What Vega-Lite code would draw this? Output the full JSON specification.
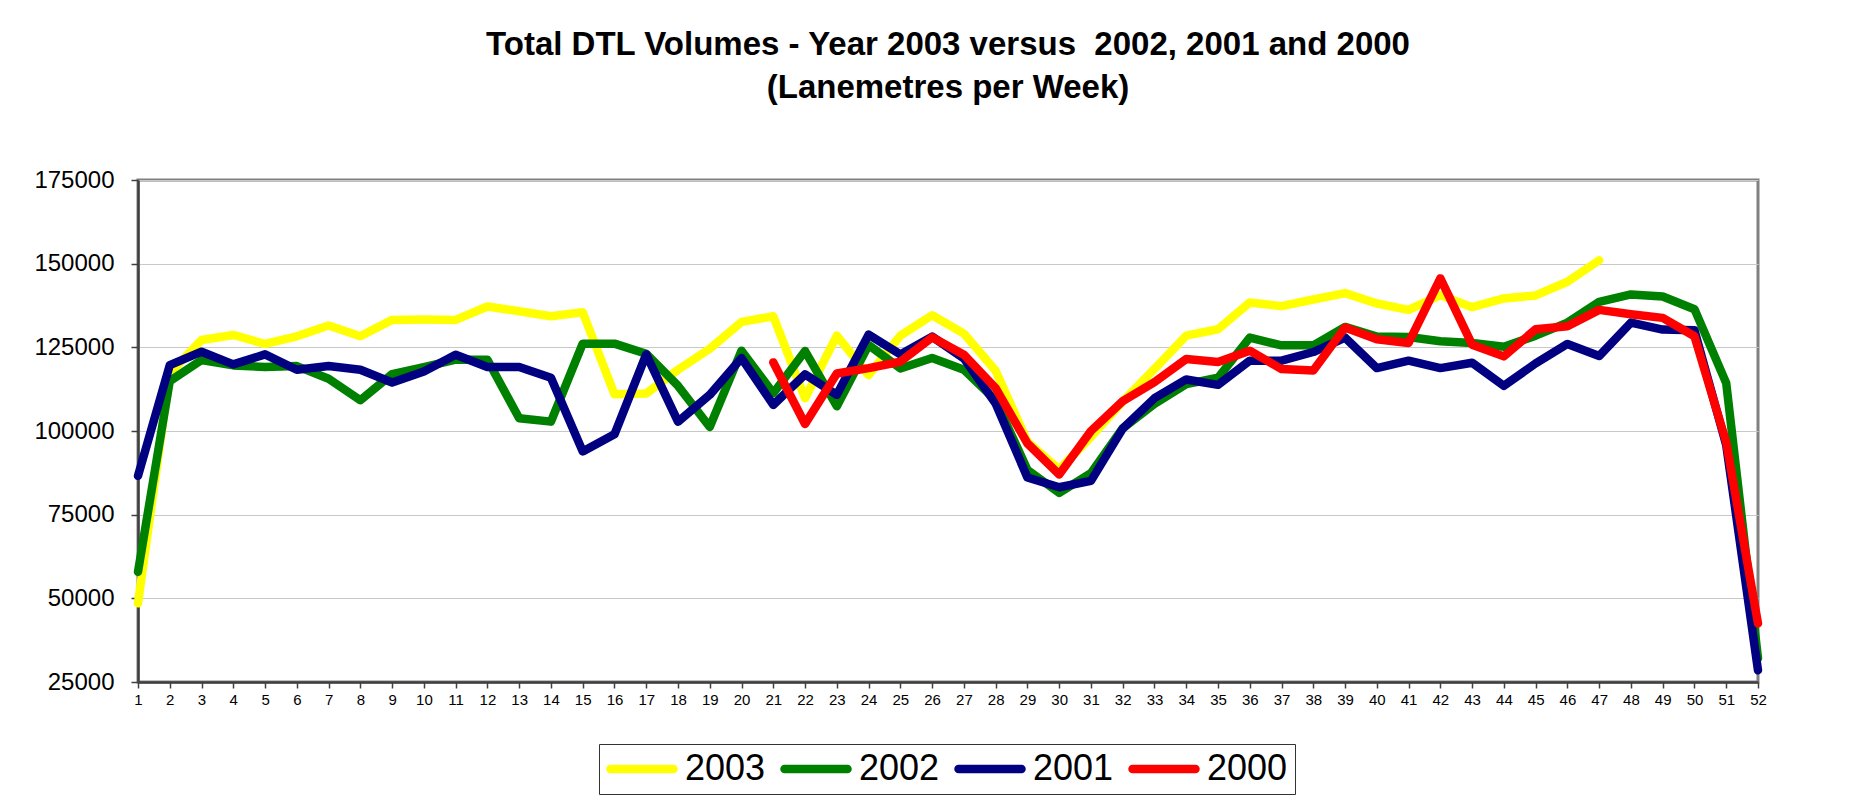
{
  "$schema": "https://vega.github.io/schema/vega-lite/v6.json",
  "autosize": {"type": "none"},
  "width": 1620,
  "height": 502,
  "padding": {"left": 138, "top": 180, "right": 102, "bottom": 127},
  "background": "white",
  "title": {
    "text": ["Total DTL Volumes - Year 2003 versus\u00a0 2002, 2001 and 2000", "(Lanemetres per Week)"],
    "font": "Liberation Sans",
    "fontSize": 33,
    "fontWeight": "bold",
    "lineHeight": 43,
    "anchor": "middle",
    "frame": "group",
    "offset": 63,
    "color": "black"
  },
  "data": {"values": [
    {"week":1,"year":"2003","lm":48500},{"week":2,"year":"2003","lm":117300},{"week":3,"year":"2003","lm":127200},{"week":4,"year":"2003","lm":128700},{"week":5,"year":"2003","lm":126000},{"week":6,"year":"2003","lm":128300},{"week":7,"year":"2003","lm":131500},{"week":8,"year":"2003","lm":128300},{"week":9,"year":"2003","lm":133200},{"week":10,"year":"2003","lm":133300},{"week":11,"year":"2003","lm":133200},{"week":12,"year":"2003","lm":137200},{"week":13,"year":"2003","lm":135800},{"week":14,"year":"2003","lm":134300},{"week":15,"year":"2003","lm":135500},{"week":16,"year":"2003","lm":111000},{"week":17,"year":"2003","lm":111200},{"week":18,"year":"2003","lm":118300},{"week":19,"year":"2003","lm":124600},{"week":20,"year":"2003","lm":132600},{"week":21,"year":"2003","lm":134300},{"week":22,"year":"2003","lm":109800},{"week":23,"year":"2003","lm":128500},{"week":24,"year":"2003","lm":116700},{"week":25,"year":"2003","lm":128500},{"week":26,"year":"2003","lm":134600},{"week":27,"year":"2003","lm":129100},{"week":28,"year":"2003","lm":118000},{"week":29,"year":"2003","lm":96800},{"week":30,"year":"2003","lm":88500},{"week":31,"year":"2003","lm":98200},{"week":32,"year":"2003","lm":108800},{"week":33,"year":"2003","lm":118500},{"week":34,"year":"2003","lm":128500},{"week":35,"year":"2003","lm":130400},{"week":36,"year":"2003","lm":138400},{"week":37,"year":"2003","lm":137300},{"week":38,"year":"2003","lm":139300},{"week":39,"year":"2003","lm":141200},{"week":40,"year":"2003","lm":138100},{"week":41,"year":"2003","lm":136200},{"week":42,"year":"2003","lm":140600},{"week":43,"year":"2003","lm":137000},{"week":44,"year":"2003","lm":139600},{"week":45,"year":"2003","lm":140500},{"week":46,"year":"2003","lm":144600},{"week":47,"year":"2003","lm":151000},
    {"week":1,"year":"2002","lm":57900},{"week":2,"year":"2002","lm":114900},{"week":3,"year":"2002","lm":121200},{"week":4,"year":"2002","lm":119600},{"week":5,"year":"2002","lm":119100},{"week":6,"year":"2002","lm":119400},{"week":7,"year":"2002","lm":115600},{"week":8,"year":"2002","lm":109200},{"week":9,"year":"2002","lm":117000},{"week":10,"year":"2002","lm":119100},{"week":11,"year":"2002","lm":121300},{"week":12,"year":"2002","lm":121300},{"week":13,"year":"2002","lm":103800},{"week":14,"year":"2002","lm":102800},{"week":15,"year":"2002","lm":126100},{"week":16,"year":"2002","lm":126100},{"week":17,"year":"2002","lm":123100},{"week":18,"year":"2002","lm":113500},{"week":19,"year":"2002","lm":101200},{"week":20,"year":"2002","lm":124000},{"week":21,"year":"2002","lm":111300},{"week":22,"year":"2002","lm":123900},{"week":23,"year":"2002","lm":107400},{"week":24,"year":"2002","lm":125700},{"week":25,"year":"2002","lm":118700},{"week":26,"year":"2002","lm":121800},{"week":27,"year":"2002","lm":118300},{"week":28,"year":"2002","lm":109200},{"week":29,"year":"2002","lm":88400},{"week":30,"year":"2002","lm":81500},{"week":31,"year":"2002","lm":87400},{"week":32,"year":"2002","lm":100800},{"week":33,"year":"2002","lm":108100},{"week":34,"year":"2002","lm":114000},{"week":35,"year":"2002","lm":115900},{"week":36,"year":"2002","lm":127900},{"week":37,"year":"2002","lm":125600},{"week":38,"year":"2002","lm":125600},{"week":39,"year":"2002","lm":131100},{"week":40,"year":"2002","lm":128200},{"week":41,"year":"2002","lm":128100},{"week":42,"year":"2002","lm":126800},{"week":43,"year":"2002","lm":126300},{"week":44,"year":"2002","lm":125200},{"week":45,"year":"2002","lm":128500},{"week":46,"year":"2002","lm":132400},{"week":47,"year":"2002","lm":138600},{"week":48,"year":"2002","lm":140800},{"week":49,"year":"2002","lm":140200},{"week":50,"year":"2002","lm":136400},{"week":51,"year":"2002","lm":114300},{"week":52,"year":"2002","lm":32100},
    {"week":1,"year":"2001","lm":86600},{"week":2,"year":"2001","lm":119700},{"week":3,"year":"2001","lm":123700},{"week":4,"year":"2001","lm":119900},{"week":5,"year":"2001","lm":122900},{"week":6,"year":"2001","lm":118300},{"week":7,"year":"2001","lm":119400},{"week":8,"year":"2001","lm":118300},{"week":9,"year":"2001","lm":114500},{"week":10,"year":"2001","lm":117800},{"week":11,"year":"2001","lm":122800},{"week":12,"year":"2001","lm":119100},{"week":13,"year":"2001","lm":119100},{"week":14,"year":"2001","lm":115900},{"week":15,"year":"2001","lm":93900},{"week":16,"year":"2001","lm":99000},{"week":17,"year":"2001","lm":122900},{"week":18,"year":"2001","lm":102800},{"week":19,"year":"2001","lm":110800},{"week":20,"year":"2001","lm":121800},{"week":21,"year":"2001","lm":107800},{"week":22,"year":"2001","lm":116900},{"week":23,"year":"2001","lm":110800},{"week":24,"year":"2001","lm":128800},{"week":25,"year":"2001","lm":122900},{"week":26,"year":"2001","lm":128200},{"week":27,"year":"2001","lm":121700},{"week":28,"year":"2001","lm":108200},{"week":29,"year":"2001","lm":86100},{"week":30,"year":"2001","lm":83200},{"week":31,"year":"2001","lm":85100},{"week":32,"year":"2001","lm":100700},{"week":33,"year":"2001","lm":109800},{"week":34,"year":"2001","lm":115400},{"week":35,"year":"2001","lm":113800},{"week":36,"year":"2001","lm":121000},{"week":37,"year":"2001","lm":121000},{"week":38,"year":"2001","lm":123600},{"week":39,"year":"2001","lm":127900},{"week":40,"year":"2001","lm":118800},{"week":41,"year":"2001","lm":121000},{"week":42,"year":"2001","lm":118800},{"week":43,"year":"2001","lm":120400},{"week":44,"year":"2001","lm":113500},{"week":45,"year":"2001","lm":120200},{"week":46,"year":"2001","lm":126000},{"week":47,"year":"2001","lm":122400},{"week":48,"year":"2001","lm":132400},{"week":49,"year":"2001","lm":130300},{"week":50,"year":"2001","lm":130100},{"week":51,"year":"2001","lm":95800},{"week":52,"year":"2001","lm":28500},
    {"week":21,"year":"2000","lm":120500},{"week":22,"year":"2000","lm":102100},{"week":23,"year":"2000","lm":117200},{"week":24,"year":"2000","lm":118800},{"week":25,"year":"2000","lm":120700},{"week":26,"year":"2000","lm":128000},{"week":27,"year":"2000","lm":122800},{"week":28,"year":"2000","lm":112800},{"week":29,"year":"2000","lm":96300},{"week":30,"year":"2000","lm":87000},{"week":31,"year":"2000","lm":100000},{"week":32,"year":"2000","lm":108900},{"week":33,"year":"2000","lm":114600},{"week":34,"year":"2000","lm":121500},{"week":35,"year":"2000","lm":120600},{"week":36,"year":"2000","lm":124000},{"week":37,"year":"2000","lm":118500},{"week":38,"year":"2000","lm":118100},{"week":39,"year":"2000","lm":130900},{"week":40,"year":"2000","lm":127400},{"week":41,"year":"2000","lm":126300},{"week":42,"year":"2000","lm":145600},{"week":43,"year":"2000","lm":125800},{"week":44,"year":"2000","lm":122300},{"week":45,"year":"2000","lm":130400},{"week":46,"year":"2000","lm":131300},{"week":47,"year":"2000","lm":136200},{"week":48,"year":"2000","lm":134900},{"week":49,"year":"2000","lm":133800},{"week":50,"year":"2000","lm":128300},{"week":51,"year":"2000","lm":96600},{"week":52,"year":"2000","lm":42500}
  ]},
  "mark": {"type": "line", "strokeWidth": 8.5, "strokeCap": "round", "strokeJoin": "round"},
  "encoding": {
    "x": {
      "field": "week", "type": "quantitative",
      "scale": {"domain": [1, 52], "nice": false, "zero": false},
      "axis": {
        "title": null, "values": [1,2,3,4,5,6,7,8,9,10,11,12,13,14,15,16,17,18,19,20,21,22,23,24,25,26,27,28,29,30,31,32,33,34,35,36,37,38,39,40,41,42,43,44,45,46,47,48,49,50,51,52],
        "grid": false, "labelFontSize": 15, "labelFont": "Liberation Sans", "labelColor": "black",
        "tickSize": 6, "tickColor": "#404040", "tickWidth": 1.5, "labelPadding": 4,
        "domainColor": "#404040", "domainWidth": 2.5, "labelFlush": false, "labelOverlap": false
      }
    },
    "y": {
      "field": "lm", "type": "quantitative",
      "scale": {"domain": [25000, 175000], "nice": false, "zero": false},
      "axis": {
        "title": null, "values": [25000, 50000, 75000, 100000, 125000, 150000, 175000],
        "format": "d", "grid": true, "gridColor": "#c8c8c8", "gridWidth": 1.2,
        "labelFontSize": 24, "labelFont": "Liberation Sans", "labelColor": "black",
        "tickSize": 7, "tickColor": "#404040", "tickWidth": 1.5, "labelPadding": 17,
        "domainColor": "#404040", "domainWidth": 2.5, "labelFlush": false, "labelOverlap": false
      }
    },
    "color": {
      "field": "year", "type": "nominal",
      "scale": {"domain": ["2003", "2002", "2001", "2000"], "range": ["#FFFF00", "#008000", "#000080", "#FF0000"]},
      "legend": {
        "title": null, "orient": "none", "legendX": 461, "legendY": 564,
        "direction": "horizontal", "columns": 4,
        "symbolType": "stroke", "symbolSize": 3969, "symbolStrokeWidth": 8.5,
        "clipHeight": 36,
        "labelFontSize": 36, "labelFont": "Liberation Sans", "labelColor": "black",
        "labelOffset": 7, "columnPadding": 14, "padding": 7,
        "strokeColor": "#333333", "fillColor": "white",
        "encode": {"symbols": {"update": {"strokeCap": {"value": "round"}}}}
      }
    }
  },
  "config": {
    "view": {"stroke": "#808080", "strokeWidth": 3},
    "font": "Liberation Sans"
  }
}
